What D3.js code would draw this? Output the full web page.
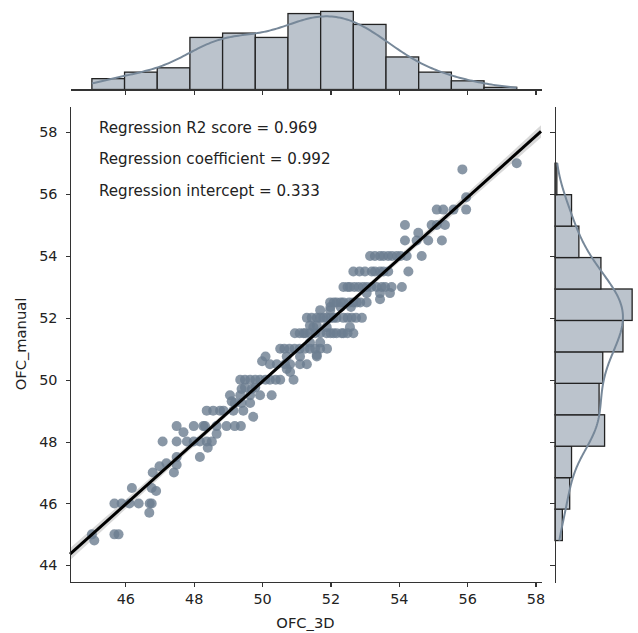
<!DOCTYPE html>
<meta charset="utf-8">
<head>
<style>
    body {
        margin: 0;
        background: #fff;
    }

    text {
        font-family: "DejaVu Sans", sans-serif;
        fill: #222;
    }

    .axis path,
    .axis line {
        stroke: #333;
        stroke-width: 1.1px;
        shape-rendering: crispEdges;
    }

    .axis text {
        font-size: 14.4px;
    }
</style>
</head>
<body>
<script src="https://d3js.org/d3.v7.min.js"></script>
<script>
    // scatter points
    var ofc3d = [
        45.02, 45.09, 45.68, 45.8, 46.7, 45.68, 45.89, 46.12, 46.39, 46.71,
        46.77, 46.19, 46.77, 46.9, 46.8, 47.0, 47.2, 47.42, 47.5, 47.5,
        47.09, 47.5, 47.8, 48.0, 48.18, 48.38, 48.53, 48.18, 48.41, 47.5,
        47.7, 48.0, 48.28, 48.67, 48.96, 49.2, 48.67, 48.38, 48.77, 49.16,
        49.11, 48.33, 49.38, 48.57, 48.87, 49.45, 49.74, 49.65, 49.06, 49.36,
        49.65, 49.94, 50.28, 49.4, 49.7, 49.36, 49.65, 49.94, 50.23, 50.53,
        50.92, 50.0, 50.1, 50.23, 50.43, 50.67, 50.82, 51.11, 51.31, 50.72,
        50.82, 50.53, 50.8, 51.1, 51.4, 51.7, 51.9, 51.6, 50.96, 51.26,
        51.55, 51.89, 52.18, 52.38, 51.4, 51.6, 51.31, 51.6, 51.89, 52.18,
        52.0, 52.3, 52.6, 51.79, 52.09, 52.38, 52.62, 52.92, 51.5, 51.89,
        52.57, 51.21, 52.09, 52.33, 52.67, 51.4, 51.7, 51.7, 51.99, 51.99,
        52.18, 52.38, 52.67, 52.87, 53.06, 53.45, 53.06, 53.45, 53.74, 52.38,
        52.57, 52.82, 53.06, 53.35, 53.6, 53.79, 54.09, 52.67, 53.01, 53.21,
        53.45, 53.69, 54.28, 53.16, 53.45, 53.69, 53.94, 54.23, 54.67, 54.18,
        54.52, 54.86, 55.26, 54.57, 54.18, 54.96, 55.11, 55.35, 55.11, 55.3,
        55.6, 55.97, 55.97, 55.86, 57.45,
        53.3, 53.55, 53.8, 54.05, 52.85, 53.3, 53.55, 52.5, 52.7, 52.95,
        53.2, 53.5, 52.1, 52.3, 52.55, 52.77, 51.45, 51.7, 52.0, 52.5,
        52.75, 51.1, 51.4, 51.7, 52.0, 52.5, 50.65, 50.95, 51.25, 51.55,
        50.72, 51.11, 51.6, 49.5, 49.8, 50.1, 50.4, 49.5, 49.8, 49.2,
        49.4
    ];
    var ofcManual = [
        45.0, 44.8, 45.0, 45.0, 45.7, 46.0, 46.0, 46.0, 46.0, 46.0,
        46.0, 46.5, 46.5, 46.4, 47.0, 47.2, 47.3, 47.0, 47.25, 47.5,
        48.0, 48.0, 48.0, 48.0, 48.0, 48.0, 48.0, 47.5, 47.8, 48.5,
        48.3, 48.5, 48.5, 48.5, 48.5, 48.5, 48.25, 49.0, 49.0, 49.0,
        49.3, 48.5, 48.5, 49.0, 49.0, 49.0, 48.8, 49.25, 49.5, 49.5,
        49.5, 49.5, 49.5, 49.7, 49.7, 50.0, 50.0, 50.0, 50.0, 50.0,
        50.0, 50.6, 50.75, 50.5, 50.5, 50.5, 50.5, 50.5, 50.5, 50.35,
        50.25, 51.0, 51.0, 51.0, 51.0, 51.0, 51.0, 50.8, 51.5, 51.5,
        51.5, 51.5, 51.5, 51.5, 51.75, 51.75, 52.0, 52.0, 52.0, 52.0,
        52.35, 52.35, 52.35, 52.0, 52.0, 52.0, 52.0, 52.0, 51.7, 51.7,
        51.7, 51.5, 51.5, 51.5, 51.5, 51.2, 51.2, 52.25, 52.25, 52.5,
        52.5, 52.5, 52.5, 52.5, 52.5, 52.6, 52.8, 52.8, 52.8, 53.0,
        53.0, 53.0, 53.0, 53.0, 53.0, 53.0, 53.0, 53.5, 53.5, 53.5,
        53.5, 53.5, 53.5, 54.0, 54.0, 54.0, 54.0, 54.0, 54.0, 54.5,
        54.5, 54.5, 54.5, 54.75, 55.0, 55.0, 55.0, 55.0, 55.5, 55.5,
        55.5, 55.5, 55.9, 56.8, 57.0,
        54.0, 54.0, 54.0, 54.0, 53.5, 53.5, 53.5, 53.0, 53.0, 53.0,
        53.0, 53.0, 52.5, 52.5, 52.5, 52.5, 52.0, 52.0, 52.0, 52.0,
        52.0, 51.5, 51.5, 51.5, 51.5, 51.5, 51.0, 51.0, 51.0, 51.0,
        50.75, 50.75, 50.75, 50.0, 50.0, 50.0, 50.0, 49.75, 49.75, 49.25,
        49.25
    ];

    // marginal histogram counts (top: OFC_3D left->right, right: OFC_manual bottom->top)
    var countsTop = [5, 8, 10, 24, 26, 24, 35, 36, 30, 15, 8, 4, 1];
    var countsRight = [4, 8, 9, 27, 24, 26, 37, 42, 25, 13, 9, 1];

    var xTicks = [46, 48, 50, 52, 54, 56, 58];
    var yTicks = [44, 46, 48, 50, 52, 54, 56, 58];

    var regR2 = 0.969,
        regCoef = 0.992,
        regIntercept = 0.333;
    var notes = [
        "Regression R2 score = " + regR2,
        "Regression coefficient = " + regCoef,
        "Regression intercept = " + regIntercept
    ];

    var W = 638,
        H = 633;
    var main = { left: 70, right: 541, top: 106, bottom: 582 };
    var topBox = { top: 7.5, bottom: 89.5 };
    var rightBox = { left: 555, right: 636 };

    var svg = d3.select("body").append("svg")
        .attr("width", W)
        .attr("height", H);

    var x = d3.scaleLinear().domain([44.38, 58.16]).range([main.left, main.right]);
    var y = d3.scaleLinear().domain([43.46, 58.85]).range([main.bottom, main.top]);

    var col = "#778899";

    // ---- regression band + line
    var n = ofc3d.length,
        xbar = d3.mean(ofc3d),
        sxx = d3.sum(ofc3d, function(v) { return (v - xbar) * (v - xbar); }),
        sse = d3.sum(ofc3d, function(v, i) {
            var r = ofcManual[i] - (regCoef * v + regIntercept);
            return r * r;
        }),
        s = Math.sqrt(sse / (n - 2));
    var fit = function(v) { return regCoef * v + regIntercept; };
    var ci = function(v) { return 1.97 * s * Math.sqrt(1 / n + (v - xbar) * (v - xbar) / sxx); };
    var xs = d3.range(0, 101).map(function(i) {
        return x.domain()[0] + (x.domain()[1] - x.domain()[0]) * i / 100;
    });

    svg.append("path")
        .datum(xs)
        .attr("fill", "#000")
        .attr("fill-opacity", 0.15)
        .attr("d", d3.area()
            .x(function(d) { return x(d); })
            .y0(function(d) { return y(fit(d) - ci(d)); })
            .y1(function(d) { return y(fit(d) + ci(d)); }));

    // ---- scatter
    svg.append("g")
        .selectAll("circle")
        .data(ofc3d)
        .enter().append("circle")
        .attr("cx", function(d) { return x(d); })
        .attr("cy", function(d, i) { return y(ofcManual[i]); })
        .attr("r", 5)
        .attr("fill", "#6b7d90")
        .attr("fill-opacity", 0.8);

    svg.append("path")
        .datum(x.domain())
        .attr("fill", "none")
        .attr("stroke", "#000")
        .attr("stroke-width", 3)
        .attr("d", d3.line()
            .x(function(d) { return x(d); })
            .y(function(d) { return y(fit(d)); }));

    // ---- main axes
    svg.append("g")
        .attr("class", "axis")
        .attr("transform", "translate(0," + main.bottom + ")")
        .call(d3.axisBottom(x).tickValues(xTicks).tickSizeInner(4.5).tickSizeOuter(0).tickPadding(7.5));

    svg.append("g")
        .attr("class", "axis")
        .attr("transform", "translate(" + main.left + ",0)")
        .call(d3.axisLeft(y).tickValues(yTicks).tickSizeInner(4.5).tickSizeOuter(0).tickPadding(8));

    svg.append("text")
        .attr("x", (main.left + main.right) / 2)
        .attr("y", 628)
        .attr("text-anchor", "middle")
        .style("font-size", "14.7px")
        .text("OFC_3D");

    svg.append("text")
        .attr("transform", "translate(26," + (main.top + main.bottom) / 2 + ") rotate(-90)")
        .attr("text-anchor", "middle")
        .style("font-size", "14.7px")
        .text("OFC_manual");

    svg.selectAll(".note")
        .data(notes)
        .enter().append("text")
        .attr("class", "note")
        .attr("x", 99)
        .attr("y", function(d, i) { return 132.5 + i * 31.7; })
        .style("font-size", "15.1px")
        .text(function(d) { return d; });

    // ---- kde helper (scott bandwidth, scaled to counts)
    function binnedKde(edges, counts) {
        var centers = counts.map(function(c, i) { return (edges[i] + edges[i + 1]) / 2; });
        var total = d3.sum(counts);
        var mean = d3.sum(centers, function(c, i) { return c * counts[i]; }) / total;
        var v = d3.sum(centers, function(c, i) { return counts[i] * (c - mean) * (c - mean); }) / (total - 1);
        var bw = Math.sqrt(v) * Math.pow(total, -0.2);
        var width = edges[1] - edges[0];
        var lo = edges[0],
            hi = edges[edges.length - 1];
        return d3.range(0, 201).map(function(i) {
            var t = lo + (hi - lo) * i / 200;
            var dens = d3.sum(centers, function(c, j) {
                var z = (t - c) / bw;
                return counts[j] * Math.exp(-0.5 * z * z);
            }) / (total * bw * Math.sqrt(2 * Math.PI));
            return [t, dens * total * width];
        });
    }

    function edgesFor(values, nb) {
        var ext = d3.extent(values);
        return d3.range(nb + 1).map(function(i) { return ext[0] + (ext[1] - ext[0]) * i / nb; });
    }

    // ---- top marginal
    var edgesTop = edgesFor(ofc3d, countsTop.length);
    var kdeTop = binnedKde(edgesTop, countsTop);
    var topMax = Math.max(d3.max(countsTop), d3.max(kdeTop, function(d) { return d[1]; }));
    var yTop = d3.scaleLinear().domain([0, topMax * 1.05]).range([topBox.bottom, topBox.top]);

    svg.append("g")
        .selectAll("rect")
        .data(countsTop)
        .enter().append("rect")
        .attr("x", function(d, i) { return x(edgesTop[i]); })
        .attr("width", function(d, i) { return x(edgesTop[i + 1]) - x(edgesTop[i]); })
        .attr("y", function(d) { return yTop(d); })
        .attr("height", function(d) { return yTop(0) - yTop(d); })
        .attr("fill", "#bbc3cc")
        .attr("stroke", "#222")
        .attr("stroke-width", 1.3);

    svg.append("path")
        .datum(kdeTop)
        .attr("fill", "none")
        .attr("stroke", col)
        .attr("stroke-width", 2)
        .attr("d", d3.line()
            .x(function(d) { return x(d[0]); })
            .y(function(d) { return yTop(d[1]); }));

    svg.append("g")
        .attr("class", "axis")
        .attr("transform", "translate(0," + topBox.bottom + ")")
        .call(d3.axisBottom(x).tickValues(xTicks).tickSizeInner(5).tickSizeOuter(0).tickFormat(""));

    // ---- right marginal
    var edgesRight = edgesFor(ofcManual, countsRight.length);
    var kdeRight = binnedKde(edgesRight, countsRight);
    var rightMax = Math.max(d3.max(countsRight), d3.max(kdeRight, function(d) { return d[1]; }));
    var xRight = d3.scaleLinear().domain([0, rightMax * 1.05]).range([rightBox.left, rightBox.right]);

    svg.append("g")
        .selectAll("rect")
        .data(countsRight)
        .enter().append("rect")
        .attr("x", xRight(0))
        .attr("width", function(d) { return xRight(d) - xRight(0); })
        .attr("y", function(d, i) { return y(edgesRight[i + 1]); })
        .attr("height", function(d, i) { return y(edgesRight[i]) - y(edgesRight[i + 1]); })
        .attr("fill", "#bbc3cc")
        .attr("stroke", "#222")
        .attr("stroke-width", 1.3);

    svg.append("path")
        .datum(kdeRight)
        .attr("fill", "none")
        .attr("stroke", col)
        .attr("stroke-width", 2)
        .attr("d", d3.line()
            .x(function(d) { return xRight(d[1]); })
            .y(function(d) { return y(d[0]); }));

    svg.append("g")
        .attr("class", "axis")
        .attr("transform", "translate(" + rightBox.left + ",0)")
        .call(d3.axisLeft(y).tickValues(yTicks).tickSizeInner(5).tickSizeOuter(0).tickFormat(""));
</script>
</body>
